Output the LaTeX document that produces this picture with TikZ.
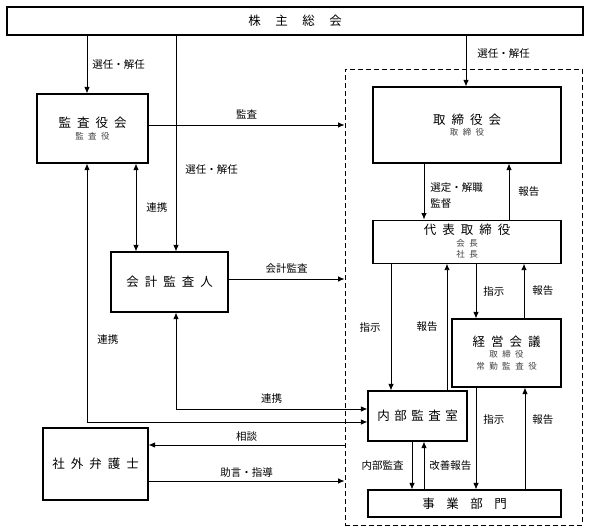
\documentclass[tikz,border=0pt]{standalone}
\usepackage{fontspec}
\setmainfont{Noto Sans CJK JP}
\usetikzlibrary{arrows.meta, positioning}

\newcommand{\boxfont}{\fontsize{12.5}{11.5}\selectfont\spaceskip=6pt\relax}
\newcommand{\lblfont}{\fontsize{10.5}{16}\selectfont}
\newcommand{\subtxt}[1]{{\fontsize{8.5}{11}\selectfont\spaceskip=4.5pt\relax\color{black!75}#1}}

\tikzset{
  box/.style={draw, line width=1.1pt, inner sep=0pt, align=center, font=\boxfont},
  groupbox/.style={draw, dash pattern=on 5pt off 3pt, line width=0.9pt, inner sep=0pt},
  lbl/.style={font=\lblfont, inner sep=1pt}
}

\begin{document}
\begin{tikzpicture}[x=1pt, y=-1pt, >={Latex[length=6.5pt,width=5.5pt]}, line width=0.9pt]
\useasboundingbox (0,0) rectangle (589,532);

\node[box, minimum width=576pt, minimum height=28pt, font={\boxfont\spaceskip=14.5pt\relax}] (soukai) at (295,21) {株 主 総 会};
\node[box, minimum width=111pt, minimum height=69pt] (kansa) at (92.5,128.5) {監 査 役 会\\\subtxt{監 査 役}};
\node[box, minimum width=117pt, minimum height=60pt] (auditor) at (169.5,282) {会 計 監 査 人};
\node[box, minimum width=105pt, minimum height=72pt] (lawyer) at (95.5,464) {社 外 弁 護 士};

% 社内
\node[groupbox, minimum width=237pt, minimum height=456pt] (group) at (463.5,297) {};
\node[box, minimum width=188pt, minimum height=76pt] (board) at (467,125) {取 締 役 会\\\subtxt{取 締 役}};
\node[box, minimum width=188pt, minimum height=43pt, below=56pt of board] (ceo) {代 表 取 締 役\\\subtxt{会 長}\\\subtxt{社 長}};
\node[box, minimum width=109pt, minimum height=68pt] (mgmt) at (506.5,353) {経 営 会 議\\\subtxt{取 締 役}\\\subtxt{常 勤 監 査 役}};
\node[box, minimum width=99pt, minimum height=50pt, font={\boxfont\spaceskip=4.5pt\relax}] (internal) at (417.5,416) {内 部 監 査 室};
\node[box, minimum width=193pt, minimum height=27pt, font={\boxfont\spaceskip=11.5pt\relax}] (biz) at (464.5,503.5) {事 業 部 門};

% 株主総会から
\draw[->] (87,0 |- soukai.south) -- (87,0 |- kansa.north) node[lbl, midway, right=4pt] {選任・解任};
\draw[->] (176,0 |- soukai.south) -- (176,0 |- auditor.north) node[lbl, pos=.62, right=8pt] {選任・解任};
\draw[->] (466,0 |- soukai.south) -- (466,0 |- board.north) node[lbl, pos=.36, right=10pt] {選任・解任};

% 監査
\draw[->] (kansa.east |- 0,125) -- (group.west |- 0,125) node[lbl, midway, above=4pt] {監査};
\draw[<->] (136,0 |- kansa.south) -- (136,0 |- auditor.north) node[lbl, midway, right=9pt] {連携};
\draw[->] (auditor.east |- 0,279) -- (group.west |- 0,279) node[lbl, midway, above=4pt] {会計監査};
\draw[<->] (87,0 |- kansa.south) |- (internal.west |- 0,422) node[lbl, pos=.34, right=9pt] {連携};
\draw[<->] (176,0 |- auditor.south) |- (internal.west |- 0,409) node[lbl, pos=.75, above=4pt] {連携};

% 社外弁護士
\draw[->] (group.west |- 0,445) -- (lawyer.east |- 0,445) node[lbl, midway, above=2pt] {相談};
\draw[->] (lawyer.east |- 0,481) -- (group.west |- 0,481) node[lbl, midway, above=2pt] {助言・指導};

% 社内の流れ
\draw[->] (424,0 |- board.south) -- (424,0 |- ceo.north) node[lbl, pos=.57, right=5pt, align=left] {選定・解職\\監督};
\draw[->] (509,0 |- ceo.north) -- (509,0 |- board.south) node[lbl, midway, right=8pt] {報告};
\draw[->] (391,0 |- ceo.south) -- (391,0 |- internal.north) node[lbl, midway, left=9pt] {指示};
\draw[->] (447,0 |- internal.north) -- (447,0 |- ceo.south) node[lbl, midway, left=8pt] {報告};
\draw[->] (476,0 |- ceo.south) -- (476,0 |- mgmt.north) node[lbl, midway, right=6pt] {指示};
\draw[->] (524,0 |- mgmt.north) -- (524,0 |- ceo.south) node[lbl, midway, right=7pt] {報告};
\draw[->] (476,0 |- mgmt.south) -- (476,0 |- biz.north) node[lbl, pos=.31, right=6pt] {指示};
\draw[->] (525,0 |- biz.north) -- (525,0 |- mgmt.south) node[lbl, pos=.69, right=6pt] {報告};
\draw[->] (412,0 |- internal.south) -- (412,0 |- biz.north) node[lbl, midway, left=7pt] {内部監査};
\draw[->] (424,0 |- biz.north) -- (424,0 |- internal.south) node[lbl, midway, right=4pt] {改善報告};
\end{tikzpicture}
\end{document}
